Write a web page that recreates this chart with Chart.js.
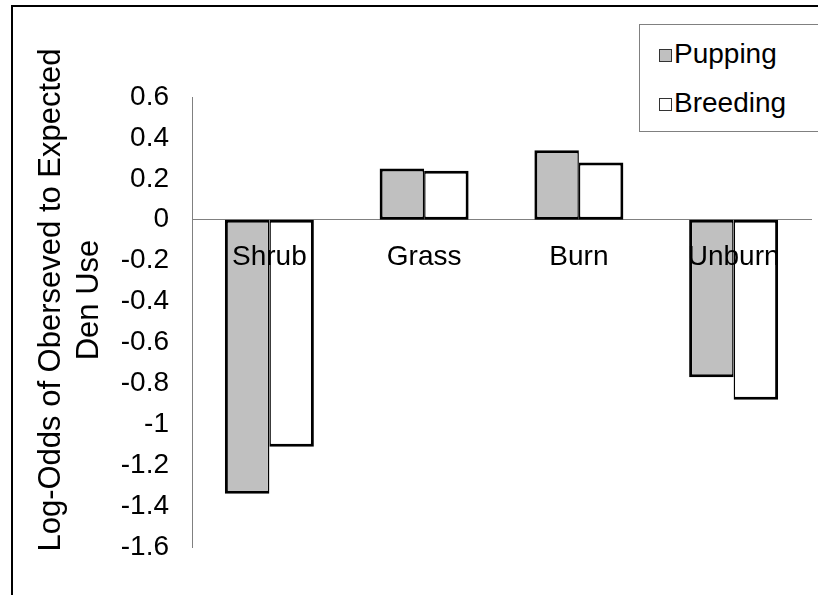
<!DOCTYPE html>
<html>
<head>
<meta charset="utf-8">
<script src="https://cdn.jsdelivr.net/npm/chart.js@4.4.1/dist/chart.umd.min.js"></script>
<style>
  body { margin: 0; background: #fff; }
  #wrap { position: relative; width: 818px; height: 595px; overflow: hidden; }
  #frame { position: absolute; left: 11px; top: 5px; width: 1000px; height: 1000px; border: 2px solid #000; }
  #grafico { position: absolute; left: 0; top: 0; }
  #legenda {
    position: absolute; left: 639px; top: 24px; width: 200px; height: 106px;
    border: 1px solid #808080; background: #fff;
    font-family: "Liberation Sans", Arial, sans-serif; font-size: 28px; color: #000;
  }
  .item { position: absolute; left: 19px; height: 32px; line-height: 32px; }
  .caixa { display: inline-block; width: 11px; height: 11px; border: 1px solid #333; margin-right: 2px; vertical-align: 1px; }
</style>
</head>
<body>
<div id="wrap">
  <div id="frame"></div>
  <canvas id="grafico" width="818" height="595"></canvas>
  <div id="legenda"></div>
</div>
<script>
// dados
const categorias = ["Shrub", "Grass", "Burn", "Unburn"];
const pupping = [-1.34, 0.25, 0.34, -0.77];
const breeding = [-1.11, 0.24, 0.28, -0.88];
const tituloY = ["Log-Odds of Oberseved to Expected", "Den Use"];

const fonte = '"Liberation Sans", Arial, sans-serif';

// titulo do eixo Y desenhado a mao (centralizado como no original)
const tituloPlugin = {
  id: 'tituloY',
  afterDraw(c) {
    const ctx = c.ctx;
    ctx.save();
    ctx.font = '31px ' + fonte;
    ctx.fillStyle = '#000';
    ctx.textAlign = 'center';
    ctx.textBaseline = 'middle';
    ctx.translate(0, 300);
    ctx.rotate(-Math.PI / 2);
    ctx.fillText(tituloY[0], 0, 51);
    ctx.fillText(tituloY[1], 0, 89);
    ctx.restore();
  }
};

const chart = new Chart(document.getElementById('grafico'), {
  type: 'bar',
  data: {
    labels: categorias,
    datasets: [
      { label: 'Pupping', data: pupping, backgroundColor: '#c0c0c0', borderColor: '#000',
        borderWidth: { top: 3, bottom: 3, left: 3, right: 1.5 }, borderSkipped: false },
      { label: 'Breeding', data: breeding, backgroundColor: '#fff', borderColor: '#000',
        borderWidth: { top: 3, bottom: 3, left: 1.5, right: 3 }, borderSkipped: false }
    ]
  },
  options: {
    responsive: false,
    animation: false,
    layout: { padding: { left: 0, top: 97, right: 7, bottom: 48 } },
    datasets: { bar: { categoryPercentage: 0.575, barPercentage: 1 } },
    plugins: { legend: { display: false }, tooltip: { enabled: false } },
    scales: {
      x: {
        position: { y: 0 },
        grid: { display: false, drawTicks: false },
        border: { display: true, color: '#808080', width: 1 },
        // z: 1 -> rotulos por cima das barras, como no original
        ticks: { z: 1, color: '#000', font: { family: fonte, size: 28 }, padding: 21, maxRotation: 0 }
      },
      y: {
        min: -1.6, max: 0.6,
        grid: { display: false, drawTicks: false },
        border: { display: true, color: '#808080', width: 1 },
        ticks: {
          stepSize: 0.2, color: '#000', padding: 23,
          font: { family: fonte, size: 28 },
          callback: v => String(parseFloat(v.toFixed(1)))
        },
        afterFit: s => { s.width = 192; }
      }
    }
  },
  plugins: [tituloPlugin]
});

// legenda em html
const cores = ['#c0c0c0', '#fff'];
const legenda = document.getElementById('legenda');
chart.data.datasets.forEach((d, i) => {
  legenda.innerHTML += `<div class="item" style="top:${13 + i * 49}px"><span class="caixa" style="background:${cores[i]}"></span>${d.label}</div>`;
});
</script>
</body>
</html>
